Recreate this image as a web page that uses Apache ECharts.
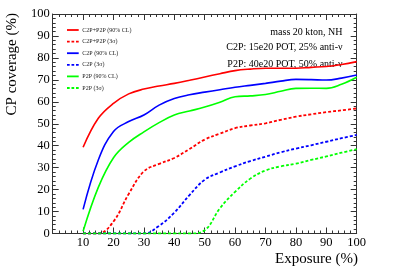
<!DOCTYPE html>
<html><head><meta charset="utf-8">
<script src="https://cdn.jsdelivr.net/npm/echarts@6/dist/echarts.min.js"></script>
<style>html,body{margin:0;padding:0;background:#fff}#c{width:411px;height:279px}</style>
</head><body><div id="c"></div>
<script>
var exposure = [10,15,20,25,30,35,40,45,50,55,60,65,70,75,80,85,90,95,100];
var c2pp2p90 = [39.3,52.5,59.3,63.6,65.8,67.2,68.4,69.8,71.3,72.8,74.2,74.9,75.3,75.3,75.3,75.7,76.1,77.0,78.3];
var c2pp2p3s = [0,0,5.5,18,28.3,31.7,34.4,38.5,42.8,45.5,48,49.2,50.2,51.8,53.2,54.3,55.3,56.1,57];
var c2p90    = [11,33.5,46.5,51,54,58.5,61.5,63.2,64.4,65.5,66.6,67.5,68.4,69.4,70.2,70.1,69.9,70.8,72.2];
var c2p3s    = [0,0,0,0,0,3.5,9.5,17.5,24.5,27.8,30.6,33,35,37,38.7,40.2,41.8,43.4,44.9];
var p2p90    = [1,21,34.5,41.5,46.3,50.5,54,55.8,57.6,59.8,62.3,62.7,63.3,64.8,66.1,66.2,66.1,68,71.2];
var p2p3s    = [0,0,0,0,0,0,0,0,1.5,11.5,19,25,28.7,30.6,31.8,33.5,35.1,36.8,38.4];
var xTicks = [10,20,30,40,50,60,70,80,90,100];
var seriesNames = ['C2P+P2P (90% CL)','C2P+P2P (3\u03c3)','C2P (90% CL)','C2P (3\u03c3)','P2P (90% CL)','P2P (3\u03c3)'];
var notes = ['mass 20 kton, NH','C2P: 15e20 POT, 25% anti-\u03bd','P2P: 40e20 POT, 50% anti-\u03bd'];
var xTitle = 'Exposure (%)';
var yTitle = 'CP coverage (%)';

function pairs(ys){ return exposure.map(function(x,i){ return [x, ys[i]]; }); }
var allY = [c2pp2p90,c2pp2p3s,c2p90,c2p3s,p2p90,p2p3s];
var colors = ['#ff0000','#ff0000','#0000ff','#0000ff','#00ff00','#00ff00'];
var dashed = [false,true,false,true,false,true];

var serif = '"Liberation Serif","DejaVu Serif",serif';
var axisCol = '#333';
function mkAxis(pos, isX, show){
  return {
    type:'value', position:pos, min:0, max:100, interval:10,
    axisLine:{show:true,onZero:false,lineStyle:{color:axisCol,width:1}},
    axisTick:{show:true,inside:true,length:6,lineStyle:{color:axisCol}},
    minorTick:{show:true,splitNumber:5,length:3,lineStyle:{color:axisCol}},
    splitLine:{show:false},
    axisLabel:{show:show,margin:3,color:'#000',fontFamily:serif,fontSize:12.5,
      formatter:function(v){ if(isX && v===0) return ''; return String(v); }}
  };
}
var solidIcon = 'path://M0,0h13v2h-13z';
var dashIcon = 'path://M0,0h3v2h-3z M5,0h3v2h-3z M10,0h3v2h-3z';

var chart = echarts.init(document.getElementById('c'),null,{renderer:'canvas'});
chart.setOption({
  animation:false,
  grid:{left:52.7,right:54.3,top:14,bottom:45.5},
  xAxis:[mkAxis('bottom',true,true), mkAxis('top',true,false)],
  yAxis:[mkAxis('left',false,true), mkAxis('right',false,false)],
  legend:{
    orient:'vertical', left:62, top:21, itemWidth:13, itemHeight:1.8, itemGap:3.6,
    textStyle:{fontFamily:serif,fontSize:6,lineHeight:8,color:'#222',padding:[0,0,0,-2]},
    data: seriesNames.map(function(n,i){ return {name:n, icon: dashed[i]?dashIcon:solidIcon}; })
  },
  series: allY.map(function(ys,i){
    return {
      name:seriesNames[i], type:'line', data:pairs(ys),
      smooth:0.4, symbol:'none',
      lineStyle:{color:colors[i],width:dashed[i]?1.8:1.6,type:dashed[i]?[3,2]:'solid'},
      itemStyle:{color:colors[i]}
    };
  }),
  graphic:[
    {type:'text',right:68.5,top:27.5,style:{text:notes[0],font:'10px '+serif,fill:'#000'}},
    {type:'text',right:68.5,top:42,style:{text:notes[1],font:'10px '+serif,fill:'#000'}},
    {type:'text',right:68.5,top:59.5,style:{text:notes[2],font:'10px '+serif,fill:'#000'}},
    {type:'text',right:53,top:252,style:{text:xTitle,font:'15px '+serif,fill:'#000'}},
    {type:'text',left:5,top:13,rotation:Math.PI/2,originX:0,originY:0,
      style:{text:yTitle,font:'15px '+serif,fill:'#000'}}
  ]
});
</script>
</body></html>
